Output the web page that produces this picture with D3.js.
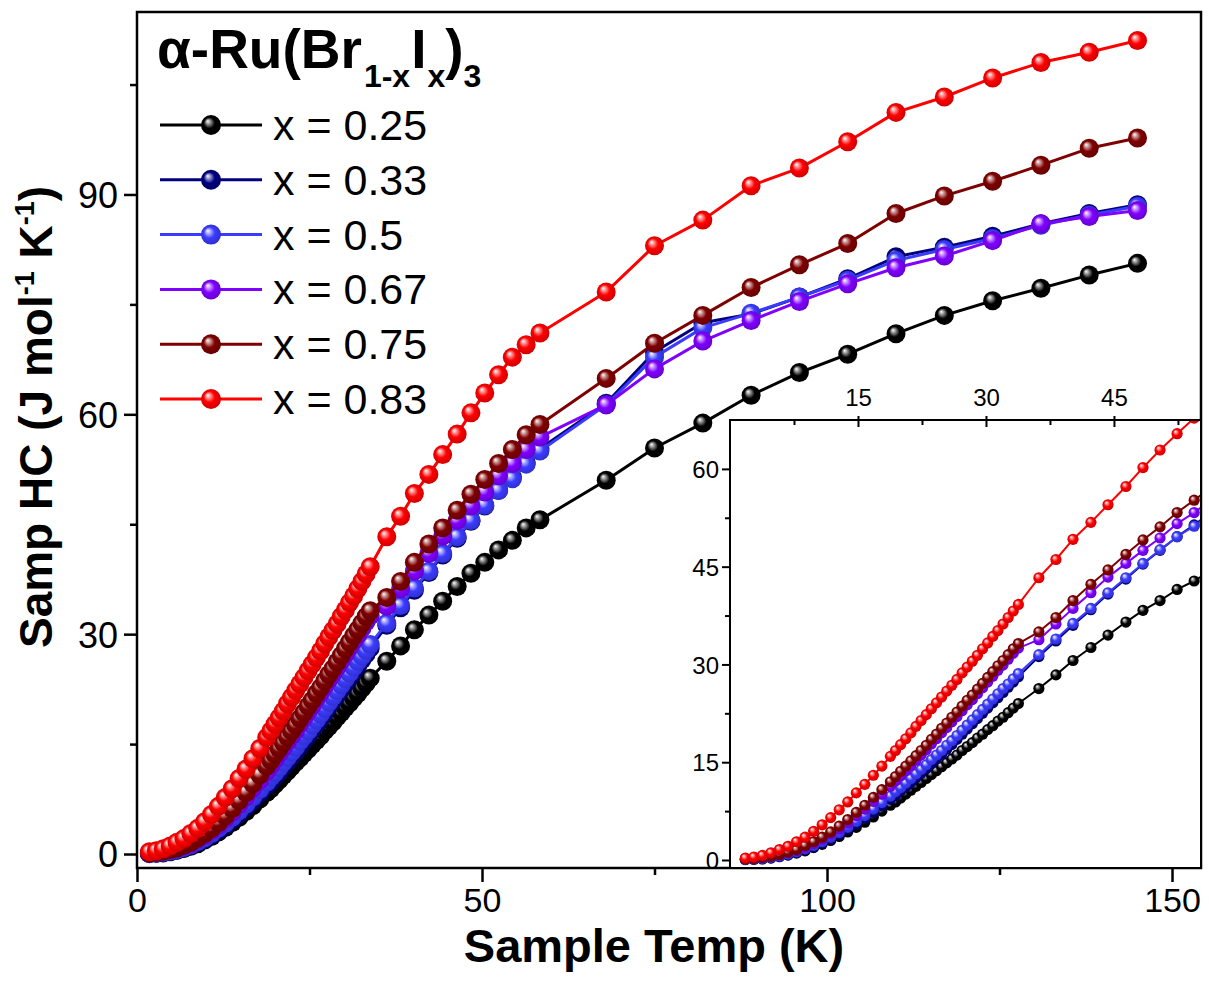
<!DOCTYPE html>
<html>
<head>
<meta charset="utf-8">
<script src="https://cdn.jsdelivr.net/npm/d3@7"></script>
<style>
  html, body { margin: 0; padding: 0; background: #ffffff; }
  svg { display: block; font-family: "Liberation Sans", Arial, Helvetica, sans-serif; }
</style>
</head>
<body>
<svg id="chart" width="1209" height="981"></svg>
<script>
// ---------------- data ----------------
const temperatureK = [
  1.8, 2.8, 3.8, 4.8, 5.8, 6.8, 7.8, 8.8, 9.8, 10.8, 11.8, 12.8, 13.8, 14.8, 15.8, 16.8, 17.8, 18.8,
  19.4, 20.0, 20.6, 21.2, 21.8, 22.4, 23.0, 23.6, 24.2, 24.8, 25.4, 26.0, 26.6, 27.2, 27.8, 28.4,
  29.0, 29.6, 30.2, 30.8, 31.4, 32.0, 32.6, 33.2, 33.8,
  36.2, 38.2, 40.2, 42.3, 44.3, 46.4, 48.4, 50.4, 52.4, 54.4, 56.4, 58.4,
  68, 75, 82, 89, 96, 103, 110, 117, 124, 131, 138, 145
];

const hc_x025 = [
  0.05, 0.1, 0.15, 0.3, 0.5, 0.75, 1.05, 1.4, 1.9, 2.4, 3.0, 3.6, 4.3, 5.0, 5.8, 6.6, 7.5, 8.4,
  8.9, 9.5, 10.1, 10.7, 11.3, 11.9, 12.5, 13.1, 13.7, 14.3, 14.9, 15.5, 16.1, 16.8, 17.4, 18.0,
  18.7, 19.3, 20.0, 20.6, 21.3, 21.9, 22.6, 23.3, 24.0,
  26.3, 28.4, 30.6, 32.6, 34.5, 36.5, 38.3, 39.8, 41.5, 42.8, 44.5, 45.6,
  51.0, 55.4, 58.8, 62.6, 65.7, 68.2, 71.0, 73.5, 75.5, 77.2, 79.0, 80.6
];
const hc_x033 = [
  0.08, 0.12, 0.2, 0.35, 0.55, 0.8, 1.15, 1.55, 2.0, 2.6, 3.2, 3.9, 4.7, 5.5, 6.4, 7.3, 8.3, 9.3,
  9.9, 10.6, 11.2, 11.9, 12.6, 13.3, 14.0, 14.7, 15.5, 16.2, 17.0, 17.7, 18.5, 19.3, 20.1, 20.9,
  21.7, 22.5, 23.3, 24.1, 24.9, 25.7, 26.5, 27.3, 28.1,
  31.2, 33.6, 36.0, 38.4, 40.8, 43.1, 45.4, 47.5, 49.6, 51.4, 53.4, 55.3,
  61.5, 68.5, 72.5, 73.7, 76.0, 78.5, 81.5, 82.8, 84.3, 86.0, 87.4, 88.6
];
const hc_x050 = [
  0.1, 0.15, 0.25, 0.4, 0.6, 0.9, 1.25, 1.7, 2.2, 2.8, 3.5, 4.2, 5.0, 5.9, 6.8, 7.8, 8.8, 9.8,
  10.5, 11.1, 11.8, 12.5, 13.2, 13.9, 14.6, 15.4, 16.1, 16.8, 17.6, 18.3, 19.1, 19.9, 20.7, 21.5,
  22.3, 23.1, 23.9, 24.7, 25.5, 26.3, 27.0, 27.8, 28.6,
  31.5, 33.9, 36.3, 38.6, 41.0, 43.3, 45.5, 47.6, 49.6, 51.2, 53.2, 55.0,
  61.3, 67.8, 71.8, 73.8, 76.0, 78.3, 81.0, 82.5, 84.0, 85.8, 87.2, 88.4
];
const hc_x067 = [
  0.13, 0.22, 0.36, 0.54, 0.77, 1.1, 1.45, 2.0, 2.55, 3.2, 4.0, 4.8, 5.7, 6.8, 7.8, 9.0, 10.1, 11.3,
  12.1, 12.9, 13.7, 14.5, 15.3, 16.1, 16.9, 17.8, 18.6, 19.5, 20.3, 21.2, 22.0, 22.9, 23.8, 24.6,
  25.5, 26.4, 27.3, 28.2, 29.1, 29.9, 30.8, 31.7, 32.5,
  33.8, 36.2, 38.6, 41.0, 43.4, 45.5, 47.5, 49.4, 51.6, 53.3, 55.2, 56.9,
  61.3, 66.2, 70.0, 72.8, 75.4, 77.8, 80.0, 81.6, 83.7, 86.0, 87.0, 87.8
];
const hc_x075 = [
  0.15, 0.25, 0.4, 0.6, 0.85, 1.2, 1.6, 2.2, 2.8, 3.5, 4.3, 5.2, 6.2, 7.3, 8.4, 9.6, 10.8, 12.0,
  12.8, 13.6, 14.4, 15.2, 16.0, 16.8, 17.6, 18.5, 19.3, 20.2, 21.0, 21.9, 22.7, 23.6, 24.5, 25.3,
  26.2, 27.1, 28.0, 28.9, 29.8, 30.6, 31.5, 32.4, 33.2,
  35.0, 37.2, 39.8, 42.3, 44.5, 46.9, 49.1, 51.1, 53.3, 55.2, 57.2, 58.6,
  64.9, 69.7, 73.5, 77.3, 80.4, 83.3, 87.4, 89.8, 91.8, 94.0, 96.3, 97.7
];
const hc_x083 = [
  0.3, 0.45, 0.7, 1.1, 1.6, 2.1, 2.8, 3.5, 4.4, 5.4, 6.5, 7.7, 8.9, 10.3, 11.6, 13.0, 14.4, 15.9,
  16.8, 17.7, 18.6, 19.5, 20.5, 21.4, 22.3, 23.2, 24.1, 25.0, 25.9, 26.8, 27.7, 28.7, 29.6, 30.5,
  31.4, 32.4, 33.3, 34.3, 35.2, 36.2, 37.2, 38.2, 39.2,
  43.3, 46.1, 49.2, 51.8, 54.5, 57.3, 60.2, 62.9, 65.4, 67.8, 69.5, 71.1,
  76.7, 83.0, 86.5, 91.2, 93.6, 97.2, 101.2, 103.3, 105.9, 108.0, 109.4, 111.0
];

const seriesLabels = ["x = 0.25", "x = 0.33", "x = 0.5", "x = 0.67", "x = 0.75", "x = 0.83"];
const seriesColors = ["#000000", "#00007f", "#3b3bff", "#7f00ff", "#7f0000", "#ff0000"];
const seriesValues = [hc_x025, hc_x033, hc_x050, hc_x067, hc_x075, hc_x083];

const xTicksMain = [0, 50, 100, 150];
const xMinorMain = [25, 75, 125];
const yTicksMain = [0, 30, 60, 90];
const yMinorMain = [15, 45, 75, 105];
const xTicksInset = [15, 30, 45];
const xMinorInset = [7.5, 22.5, 37.5, 52.5];
const yTicksInset = [0, 15, 30, 45, 60];
const yMinorInset = [7.5, 22.5, 37.5, 52.5];

// ---------------- drawing ----------------
const svg = d3.select("#chart");
const M = { left: 137, right: 1201, top: 12, bottom: 868 };
const I = { left: 730, right: 1201, top: 420, bottom: 868 };

const x = d3.scaleLinear().domain([0, 154.2]).range([M.left, M.right]);
const y = d3.scaleLinear().domain([-1.91, 114.9]).range([M.bottom, M.top]);
const xi = d3.scaleLinear().domain([0, 55.2]).range([I.left, I.right]);
const yi = d3.scaleLinear().domain([-1.23, 67.5]).range([I.bottom, I.top]);

const defs = svg.append("defs");
seriesColors.forEach((c, i) => {
  const g = defs.append("radialGradient").attr("id", "ball" + i)
    .attr("cx", "50%").attr("cy", "50%").attr("r", "55%")
    .attr("fx", "33%").attr("fy", "30%");
  g.append("stop").attr("offset", "0%").attr("stop-color", "#ffffff");
  g.append("stop").attr("offset", "20%").attr("stop-color", d3.interpolateRgb(c, "#ffffff")(0.6));
  g.append("stop").attr("offset", "50%").attr("stop-color", c);
  g.append("stop").attr("offset", "100%").attr("stop-color", d3.color(c).darker(0.7).formatHex());
});
defs.append("clipPath").attr("id", "clipMain").append("rect")
  .attr("x", M.left).attr("y", M.top).attr("width", M.right - M.left).attr("height", M.bottom - M.top);
defs.append("clipPath").attr("id", "clipInset").append("rect")
  .attr("x", I.left).attr("y", I.top).attr("width", I.right - I.left).attr("height", I.bottom - I.top);

function rowsOf(vals) { return temperatureK.map((t, k) => ({ t: t, v: vals[k] })); }

function drawSeries(g, xs, ys, r, lw) {
  seriesValues.forEach((vals, i) => {
    const rows = rowsOf(vals);
    const line = d3.line().x(d => xs(d.t)).y(d => ys(d.v));
    const sg = g.append("g");
    sg.append("path").datum(rows).attr("d", line)
      .attr("fill", "none").attr("stroke", seriesColors[i]).attr("stroke-width", lw)
      .attr("stroke-linejoin", "round");
    sg.selectAll("circle").data(rows).join("circle")
      .attr("cx", d => xs(d.t)).attr("cy", d => ys(d.v)).attr("r", r)
      .attr("fill", "url(#ball" + i + ")");
  });
}

// main data
const mainData = svg.append("g").attr("clip-path", "url(#clipMain)");
drawSeries(mainData, x, y, 9.5, 3);

// main axes
const gx = svg.append("g").attr("transform", `translate(0,${M.bottom})`)
  .call(d3.axisBottom(x).tickValues(xTicksMain).tickSize(14).tickPadding(6).tickFormat(d3.format("d")));
svg.append("g").attr("transform", `translate(0,${M.bottom})`)
  .call(d3.axisBottom(x).tickValues(xMinorMain).tickSize(7).tickFormat(""));
const gy = svg.append("g").attr("transform", `translate(${M.left},0)`)
  .call(d3.axisLeft(y).tickValues(yTicksMain).tickSize(13).tickPadding(6).tickFormat(d3.format("d")));
svg.append("g").attr("transform", `translate(${M.left},0)`)
  .call(d3.axisLeft(y).tickValues(yMinorMain).tickSize(7).tickFormat(""));
svg.selectAll(".domain").remove();
svg.selectAll(".tick line").attr("stroke", "#000").attr("stroke-width", 2.5);
gx.selectAll("text").attr("font-size", 34).attr("fill", "#000").attr("font-family", "Liberation Sans, Arial, sans-serif");
gy.selectAll("text").attr("font-size", 36).attr("fill", "#000").attr("font-family", "Liberation Sans, Arial, sans-serif").attr("dy", "0.36em");

// frame
svg.append("rect").attr("x", M.left).attr("y", M.top)
  .attr("width", M.right - M.left).attr("height", M.bottom - M.top)
  .attr("fill", "none").attr("stroke", "#000").attr("stroke-width", 2.5);

// inset
const inset = svg.append("g");
inset.append("rect").attr("x", I.left).attr("y", I.top)
  .attr("width", I.right - I.left).attr("height", I.bottom - I.top).attr("fill", "#fff");
const insetData = inset.append("g").attr("clip-path", "url(#clipInset)");
drawSeries(insetData, xi, yi, 5.6, 2);
inset.append("rect").attr("x", I.left).attr("y", I.top)
  .attr("width", I.right - I.left).attr("height", I.bottom - I.top)
  .attr("fill", "none").attr("stroke", "#000").attr("stroke-width", 2);

const inFont = 24;
const gxi = inset.append("g").attr("transform", `translate(0,${I.top})`)
  .call(d3.axisTop(xi).tickValues(xTicksInset).tickSizeInner(-7).tickSizeOuter(0).tickPadding(14).tickFormat(d3.format("d")));
inset.append("g").attr("transform", `translate(0,${I.top})`)
  .call(d3.axisTop(xi).tickValues(xTicksInset).tickSize(4).tickFormat(""));
inset.append("g").attr("transform", `translate(0,${I.top})`)
  .call(d3.axisTop(xi).tickValues(xMinorInset).tickSizeInner(-5).tickSizeOuter(0).tickFormat(""));
const gyi = inset.append("g").attr("transform", `translate(${I.left},0)`)
  .call(d3.axisLeft(yi).tickValues(yTicksInset).tickSize(8).tickPadding(3).tickFormat(d3.format("d")));
inset.append("g").attr("transform", `translate(${I.left},0)`)
  .call(d3.axisLeft(yi).tickValues(yMinorInset).tickSize(5).tickFormat(""));
inset.selectAll(".domain").remove();
inset.selectAll(".tick line").attr("stroke", "#000").attr("stroke-width", 2);
gxi.selectAll("text").attr("font-size", inFont).attr("fill", "#000").attr("font-family", "Liberation Sans, Arial, sans-serif");
gyi.selectAll("text").attr("font-size", inFont).attr("fill", "#000").attr("font-family", "Liberation Sans, Arial, sans-serif").attr("dy", "0.36em");

// axis titles
svg.append("text").attr("x", 654).attr("y", 962).attr("text-anchor", "middle")
  .attr("font-size", 47).attr("font-weight", "bold").text("Sample Temp (K)");

const yt = svg.append("text").attr("transform", "translate(52,417) rotate(-90)")
  .attr("text-anchor", "middle").attr("font-size", 46).attr("font-weight", "bold");
yt.append("tspan").text("Samp HC (J mol");
yt.append("tspan").attr("font-size", 27).attr("dy", -18).text("-1");
yt.append("tspan").attr("dy", 18).text(" K");
yt.append("tspan").attr("font-size", 27).attr("dy", -18).text("-1");
yt.append("tspan").attr("dy", 18).text(")");

// title
const tt = svg.append("text").attr("x", 157).attr("y", 68).attr("font-size", 55).attr("font-weight", "bold");
tt.append("tspan").text("α-Ru(Br");
tt.append("tspan").attr("font-size", 32).attr("dx", 2).attr("dy", 19).text("1-x");
tt.append("tspan").attr("dx", 1).attr("dy", -19).text("I");
tt.append("tspan").attr("font-size", 32).attr("dx", 1).attr("dy", 19).text("x");
tt.append("tspan").attr("dy", -19).text(")");
tt.append("tspan").attr("font-size", 32).attr("dy", 19).text("3");

// legend
const legendTop = 125, legendStep = 54.8;
seriesLabels.forEach((lab, i) => {
  const cy = legendTop + i * legendStep;
  const lg = svg.append("g");
  lg.append("line").attr("x1", 160).attr("x2", 262).attr("y1", cy).attr("y2", cy)
    .attr("stroke", seriesColors[i]).attr("stroke-width", 3);
  lg.append("circle").attr("cx", 211).attr("cy", cy).attr("r", 10).attr("fill", "url(#ball" + i + ")");
  lg.append("text").attr("x", 273).attr("y", cy + 15).attr("font-size", 43).attr("fill", "#000").text(lab);
});
</script>
</body>
</html>
